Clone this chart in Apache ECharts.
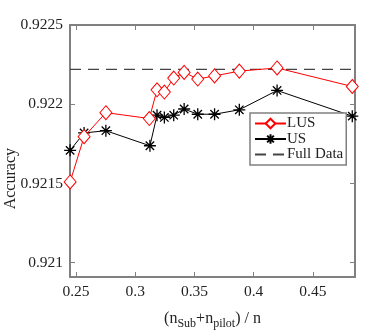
<!DOCTYPE html>
<html>
<head>
<meta charset="utf-8">
<script src="https://cdn.jsdelivr.net/npm/echarts@6/dist/echarts.min.js"></script>
<style>
  html, body { margin: 0; padding: 0; background: #fff; }
  #chart { width: 392px; height: 335px; }
</style>
</head>
<body>
<div id="chart"></div>
<script>
// x = (n_Sub + n_pilot) / n
const ratio = [0.245, 0.2568, 0.2752, 0.3119, 0.3184, 0.3246, 0.3325, 0.3413, 0.3528, 0.367, 0.3879, 0.4198, 0.4833]
const ratioUS = [0.245, 0.2568, 0.2752, 0.3124, 0.3184, 0.3246, 0.3325, 0.3413, 0.3528, 0.367, 0.3879, 0.4198, 0.4833]
const lusAcc = [0.92151, 0.921795, 0.921947, 0.92191, 0.922091, 0.922077, 0.922165, 0.922201, 0.922159, 0.922179, 0.922209, 0.922229, 0.922112]
const usAcc = [0.921709, 0.921819, 0.921833, 0.921738, 0.921931, 0.921917, 0.921931, 0.92197, 0.921937, 0.921937, 0.921965, 0.922087, 0.921925]
const fullDataAcc = 0.92222
const xTicks = [0.25, 0.3, 0.35, 0.4, 0.45]
const yTicks = [0.921, 0.9215, 0.922, 0.9225]
const xRange = [0.2449, 0.4856]
const yRange = [0.92091, 0.9225]

const font = 'Liberation Serif'
const axisGray = '#808080'
const star = 'path://M5,0L5,10M0,5L10,5M1.5,1.5L8.5,8.5M1.5,8.5L8.5,1.5'

const chart = echarts.init(document.getElementById('chart'))

function fmt (v) {
  return String(+v.toFixed(4))
}

function boxAxis (position, isX, showLabel) {
  const ticks = isX ? xTicks : yTicks
  const range = isX ? xRange : yRange
  return {
    type: 'value',
    position: position,
    min: range[0],
    max: range[1],
    axisLine: { show: true, onZero: false, lineStyle: { color: axisGray, width: 2 } },
    axisTick: { show: true, inside: true, length: 5, customValues: ticks, lineStyle: { color: axisGray, width: 1 } },
    axisLabel: {
      show: showLabel,
      customValues: ticks,
      formatter: fmt,
      color: '#222',
      fontFamily: font,
      fontSize: 15.5,
      margin: 7
    },
    splitLine: { show: false }
  }
}

const xBottom = boxAxis('bottom', true, true)
xBottom.name = '(n{sub|Sub}+n{sub|pilot}) / n'
xBottom.nameLocation = 'middle'
xBottom.nameGap = 31
xBottom.nameTextStyle = {
  color: '#222',
  fontFamily: font,
  fontSize: 16,
  rich: {
    sub: { fontFamily: font, fontSize: 12, color: '#222', padding: [10, 0, 0, 0] }
  }
}

const option = {
  animation: false,
  backgroundColor: '#fff',
  textStyle: { fontFamily: font },
  grid: { left: 70, right: 37, top: 25, bottom: 48 },
  xAxis: [xBottom, boxAxis('top', true, false)],
  yAxis: [boxAxis('left', false, true), boxAxis('right', false, false)],
  graphic: [{
    type: 'text',
    left: 3,
    top: 148,
    rotation: Math.PI / 2,
    style: { text: 'Accuracy', fontFamily: font, fontSize: 16, fill: '#222' }
  }],
  legend: {
    orient: 'vertical',
    left: 250,
    top: 113,
    padding: [3, 3, 3, 4],
    itemGap: 0.5,
    itemWidth: 31,
    itemHeight: 12,
    backgroundColor: '#fff',
    borderColor: axisGray,
    borderWidth: 1.5,
    borderRadius: 0,
    textStyle: { fontFamily: font, fontSize: 15, color: '#222', padding: [0, 0, 0, -4] },
    data: ['LUS', 'US', 'Full Data']
  },
  series: [
    {
      name: 'LUS',
      type: 'line',
      data: ratio.map((x, i) => [x, lusAcc[i]]),
      symbol: 'diamond',
      symbolSize: [12, 14],
      color: '#ff0000',
      lineStyle: { color: '#ff0000', width: 1 },
      itemStyle: { color: '#fff', borderColor: '#ff0000', borderWidth: 1 },
      z: 3
    },
    {
      name: 'US',
      type: 'line',
      data: ratioUS.map((x, i) => [x, usAcc[i]]),
      symbol: star,
      symbolSize: 12,
      color: '#000',
      lineStyle: { color: '#000', width: 1 },
      itemStyle: { color: 'none', borderColor: '#000', borderWidth: 1.3 },
      z: 2
    },
    {
      name: 'Full Data',
      type: 'line',
      data: xRange.map(x => [x, fullDataAcc]),
      symbol: 'circle',
      showSymbol: false,
      color: '#444',
      lineStyle: { color: '#444', width: 1.3, type: [11, 7] },
      itemStyle: { color: 'rgba(0,0,0,0)', borderWidth: 0 },
      z: 1
    }
  ]
}

chart.setOption(option)
</script>
</body>
</html>
